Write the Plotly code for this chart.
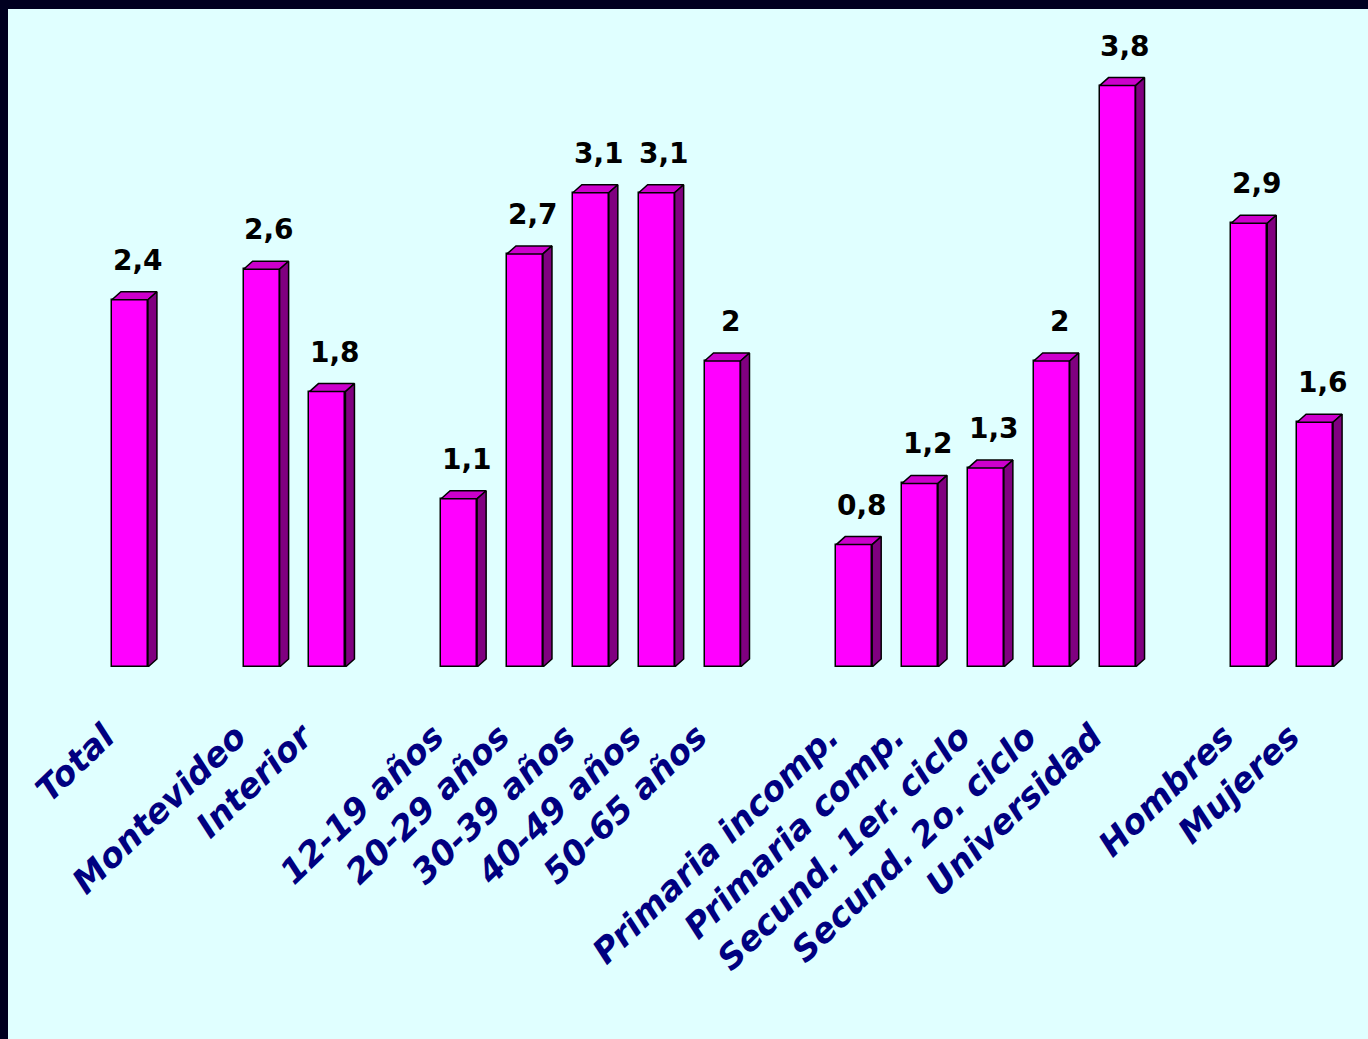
import plotly.graph_objects as go

# ---- data ----
categories = ["Total", "", "Montevideo", "Interior", "",
              "12-19 años", "20-29 años", "30-39 años", "40-49 años", "50-65 años", "",
              "Primaria incomp.", "Primaria comp.", "Secund. 1er. ciclo", "Secund. 2o. ciclo", "Universidad", "",
              "Hombres", "Mujeres"]
values = [2.4, None, 2.6, 1.8, None,
          1.1, 2.7, 3.1, 3.1, 2.0, None,
          0.8, 1.2, 1.3, 2.0, 3.8, None,
          2.9, 1.6]

# ---- layout geometry ----
W, H = 1368, 1039
L, R, T, B = 97, 20, 24, 372
plotW = W - L - R
plotH = H - T - B
n = len(categories)
px_per_x = plotW / n
px_per_y = 153.0
ymax = plotH / px_per_y

bar_w = 36 / px_per_x
dx = 9 / px_per_x
dy = 8 / px_per_y

xs = [i for i, v in enumerate(values) if v is not None]
ys = [v for v in values if v is not None]
labels = [categories[i] for i in xs]

fig = go.Figure()
fig.add_trace(go.Bar(x=xs, y=ys, width=bar_w, marker=dict(color="#FF00FF", line=dict(color="black", width=1.5)),
                     hoverinfo="skip", showlegend=False))

# 3D faces
tx, ty, sx, sy = [], [], [], []
for x, v in zip(xs, ys):
    a, b = x - bar_w / 2, x + bar_w / 2
    tx += [a, b, b + dx, a + dx, a, None]
    ty += [v, v, v + dy, v + dy, v, None]
    sx += [b, b + dx, b + dx, b, b, None]
    sy += [0, dy, v + dy, v, 0, None]
fig.add_trace(go.Scatter(x=tx, y=ty, mode="lines", fill="toself", fillcolor="#CC00CC",
                         line=dict(color="black", width=1.5), hoverinfo="skip", showlegend=False))
fig.add_trace(go.Scatter(x=sx, y=sy, mode="lines", fill="toself", fillcolor="#800080",
                         line=dict(color="black", width=1.5), hoverinfo="skip", showlegend=False))

for x, v in zip(xs, ys):
    fig.add_annotation(x=x + dx / 2 + 0.05, y=v + dy, text=f"{v:g}".replace(".", ","), showarrow=False,
                       xanchor="center", yanchor="bottom", yshift=13,
                       font=dict(family="DejaVu Sans", size=28, color="black", weight="bold"))

# background / border
def xp(px):
    return (px - L) / plotW

def yp(py):
    return (H - B - py) / plotH

fig.add_shape(type="rect", xref="paper", yref="paper", x0=xp(8), x1=xp(W + 5), y0=yp(9), y1=yp(H + 5),
              fillcolor="#E0FFFF", line=dict(width=0), layer="below")

fig.update_layout(
    width=W, height=H,
    margin=dict(l=L, r=R, t=T, b=B, pad=0),
    paper_bgcolor="#000020",
    plot_bgcolor="#E0FFFF",
    bargap=0,
    xaxis=dict(range=[-0.5, n - 0.5], tickvals=xs, ticktext=labels, tickangle=-44,
               showgrid=False, zeroline=False, showline=False, ticks="",
               tickfont=dict(family="DejaVu Sans", size=34, color="#000080", weight="bold", style="italic"),
               ticklabelstandoff=42, ticklabelshift=-25),
    yaxis=dict(range=[0, ymax], visible=False),
)

fig.write_html("out.html")
